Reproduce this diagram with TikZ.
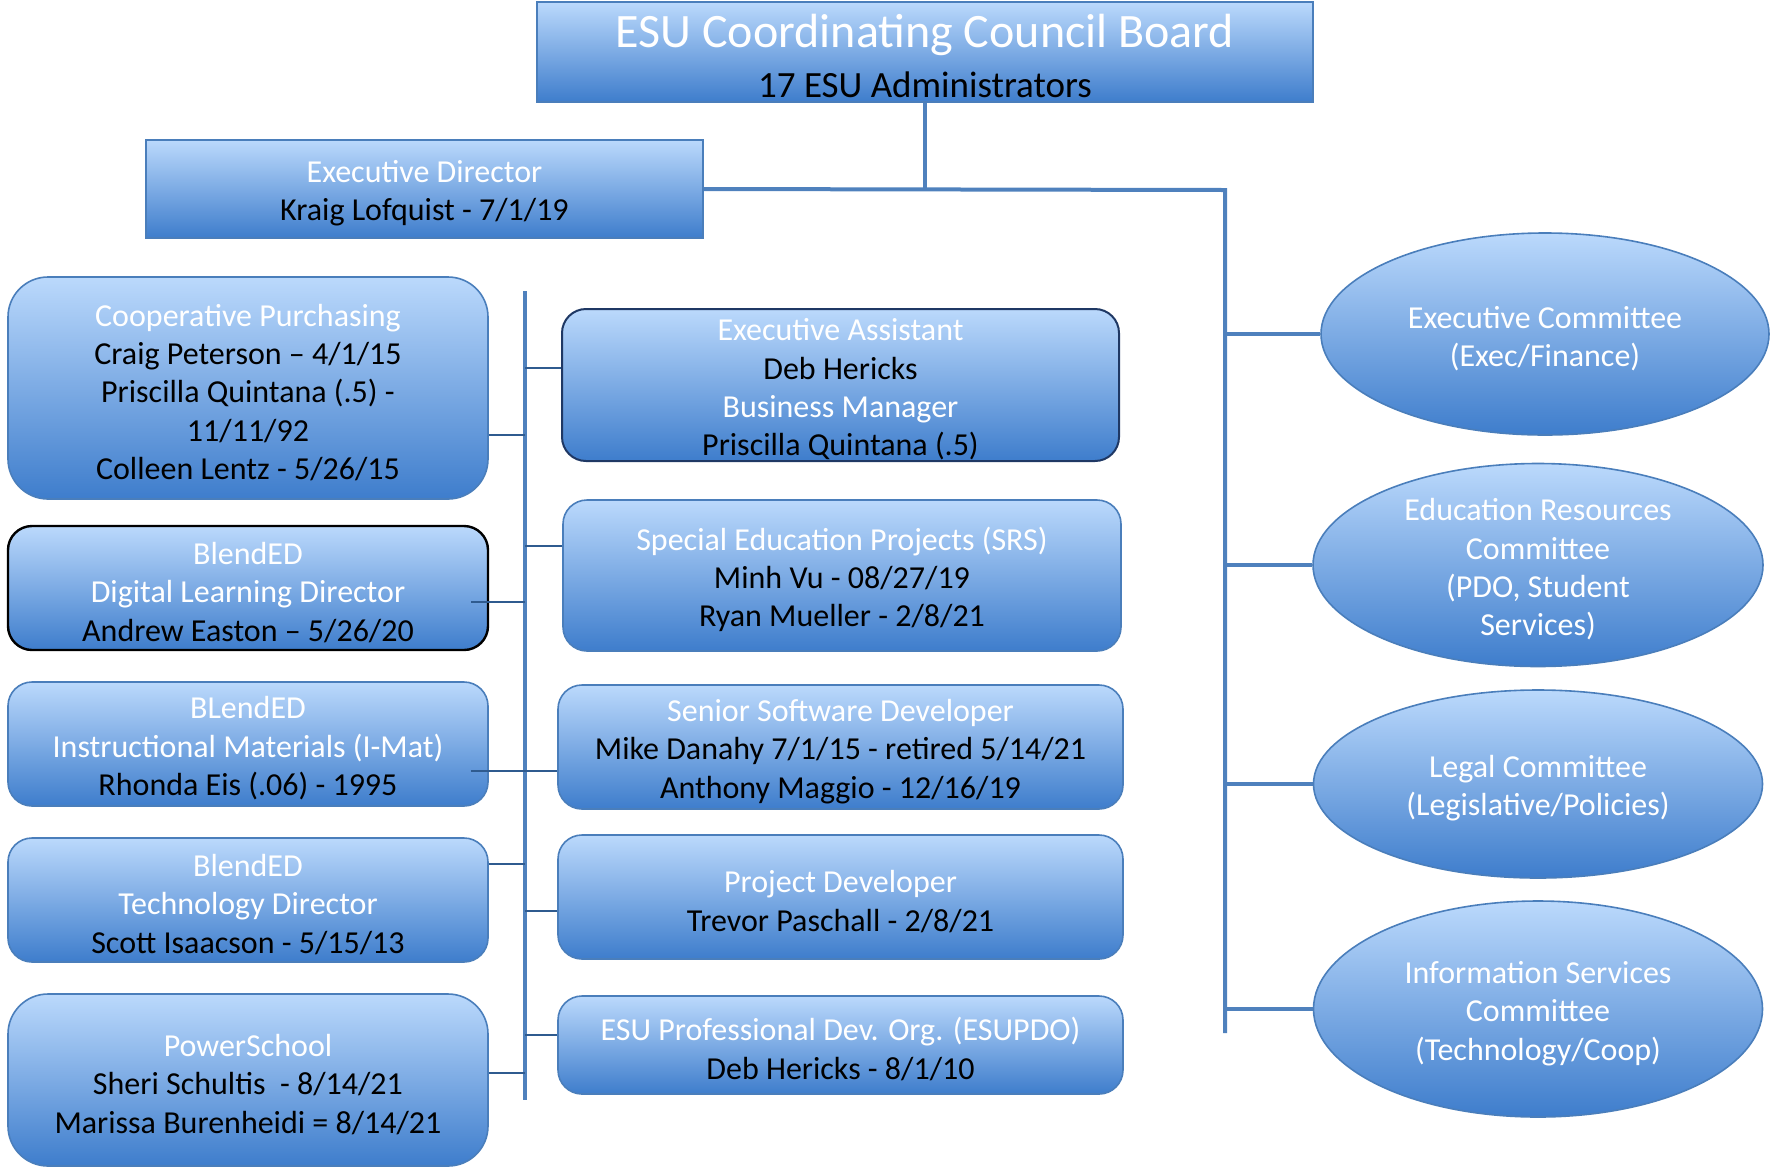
\documentclass[tikz,border=0pt]{standalone}
\usepackage{fontspec}
\setmainfont{Carlito}
\usetikzlibrary{shapes.geometric}

\definecolor{boxtop}{HTML}{BBD9FC}
\definecolor{boxbot}{HTML}{3E7DCC}
\definecolor{boxedge}{HTML}{4A7EBB}
\definecolor{linkcol}{HTML}{4F81BD}
\definecolor{tickcol}{HTML}{2F5B8F}
\definecolor{navy}{HTML}{1F3864}

\newcommand{\hd}[1]{\textcolor{white}{#1}}
\newcommand{\lo}[1][15.5pt]{\rule{0pt}{#1}} % lowers the text a bit

\begin{document}
\begin{tikzpicture}[
            x = 0.5pt, y = -0.5pt, % one unit per pixel, y downwards
            font = \fontsize{16}{19.2}\selectfont,
            unit/.style = {draw=boxedge, line width=0.8pt, top color=boxtop,
                           bottom color=boxbot, align=center, inner sep=0pt},
            plain/.style = {unit},
            box/.style = {unit, rounded corners=12pt},
            bigbox/.style = {unit, rounded corners=20pt},
            cmte/.style = {unit, ellipse, text=white},
            trunk/.style = {draw=linkcol, line width=2pt},
            tick/.style = {draw=tickcol, line width=0.9pt}
        ]
	\useasboundingbox (0,0) rectangle (1770,1168);

	% board and director
	\node[plain, minimum width=388pt, minimum height=50pt,
	      font=\fontsize{18.5}{25}\selectfont] (board) at (925,52)
	      {\lo[20.5pt]\hd{\fontsize{24}{25}\selectfont ESU Coordinating Council Board}\\ 17 ESU Administrators};
	\node[plain, minimum width=278.5pt, minimum height=49pt] (execdir) at (424.5,189)
	      {\lo\hd{Executive Director}\\ Kraig Lofquist - 7/1/19};

	% left column
	\node[bigbox, minimum width=240pt, minimum height=111pt] (coop) at (248,388)
	      {\lo\hd{Cooperative Purchasing}\\ Craig Peterson -- 4/1/15\\ Priscilla Quintana (.5) -\\ 11/11/92\\ Colleen Lentz - 5/26/15};
	\node[box, draw=black, line width=1.2pt, minimum width=240pt, minimum height=62pt] (digital) at (248,588)
	      {\lo\hd{BlendED}\\ \hd{Digital Learning Director}\\ Andrew Easton -- 5/26/20};
	\node[box, minimum width=240pt, minimum height=62pt] (imat) at (248,744)
	      {\lo\hd{BLendED}\\ \hd{Instructional Materials (I-Mat)}\\ Rhonda Eis (.06) - 1995};
	\node[box, minimum width=240pt, minimum height=62pt] (techdir) at (248,900)
	      {\lo\hd{BlendED}\\ \hd{Technology Director}\\ Scott Isaacson - 5/15/13};
	\node[bigbox, minimum width=240pt, minimum height=86pt] (powersch) at (248,1080)
	      {\lo\hd{PowerSchool}\\ Sheri Schultis\ \ - 8/14/21\\ Marissa Burenheidi = 8/14/21};

	% middle column
	\node[box, draw=navy, line width=1pt, minimum width=278.5pt, minimum height=76pt] (asst) at (840.5,385)
	      {\lo\hd{Executive Assistant}\\ Deb Hericks\\ \hd{Business Manager}\\ Priscilla Quintana (.5)};
	\node[box, minimum width=279pt, minimum height=75.5pt] (sped) at (842,575.5)
	      {\lo\hd{Special Education Projects (SRS)}\\ Minh Vu - 08/27/19\\ Ryan Mueller - 2/8/21};
	\node[box, minimum width=282.5pt, minimum height=62pt] (software) at (840.5,747)
	      {\lo\hd{Senior Software Developer}\\ Mike Danahy 7/1/15 - retired 5/14/21\\ Anthony Maggio - 12/16/19};
	\node[box, minimum width=282.5pt, minimum height=62pt] (projdev) at (840.5,897)
	      {\lo\hd{Project Developer}\\ Trevor Paschall - 2/8/21};
	\node[box, minimum width=282.5pt, minimum height=49pt] (pdo) at (840.5,1045)
	      {\lo\hd{ESU Professional Dev. Org. (ESUPDO)}\\ Deb Hericks - 8/1/10};

	% committees
	\node[cmte, minimum width=224pt, minimum height=101pt] (exec) at (1545,334)
	      {\lo Executive Committee\\ (Exec/Finance)};
	\node[cmte, inner ysep=-6pt, minimum width=225pt, minimum height=101.5pt] (edu) at (1538,565)
	      {\lo Education Resources\\ Committee\\ (PDO, Student\\ Services)};
	\node[cmte, minimum width=224.5pt, minimum height=94pt] (legal) at (1538,784)
	      {\lo Legal Committee\\ (Legislative/Policies)};
	\node[cmte, minimum width=224.5pt, minimum height=108pt] (info) at (1538,1009)
	      {\lo Information Services\\ Committee\\ (Technology/Coop)};

	% lines
	\coordinate (fork) at (925,190);
	\coordinate (trunk) at (1225,190);
	\coordinate (trunkend) at (1225,1033);
	\coordinate (spine) at (525,291);
	\coordinate (spineend) at (525,1100);

	\draw[trunk] (board.south) -- (fork);
	\draw[trunk] (execdir.east) -- (trunk) -- (trunkend);
	\draw[trunk] (spine) -- (spineend);
	\foreach \c in {exec,edu,legal,info}
		\draw[trunk] (\c.west) -- (\c.west -| trunk);

	\draw[tick] ([yshift=8.5pt]asst.west) -- ([yshift=8.5pt]asst.west -| spine);
	\draw[tick] ([yshift=-23.5pt]coop.east) -- ([yshift=-23.5pt]coop.east -| spine);
	\draw[tick] ([yshift=14.75pt]sped.west) -- ([yshift=14.75pt]sped.west -| spine);
	\draw[tick] ([xshift=-9pt,yshift=-7pt]digital.east) -- ([yshift=-7pt]digital.east -| spine);
	\draw[tick] ([xshift=-9pt,yshift=-13.5pt]imat.east) -- ([yshift=-13.5pt]imat.east -| software.west);
	\draw[tick] ([yshift=18pt]techdir.east) -- ([yshift=18pt]techdir.east -| spine);
	\draw[tick] ([yshift=-7pt]projdev.west) -- ([yshift=-7pt]projdev.west -| spine);
	\draw[tick] ([yshift=5pt]pdo.west) -- ([yshift=5pt]pdo.west -| spine);
	\draw[tick] ([yshift=3.5pt]powersch.east) -- ([yshift=3.5pt]powersch.east -| spine);
\end{tikzpicture}
\end{document}
